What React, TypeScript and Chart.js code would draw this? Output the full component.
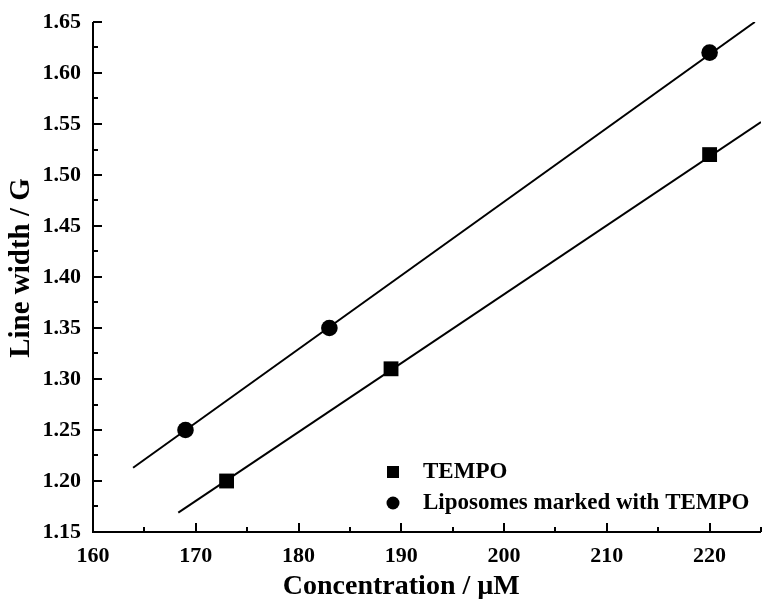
import React, { useEffect, useRef } from "react";
import { Chart, registerables } from "chart.js";

Chart.register(...registerables);

const tempoX = [173, 189, 220];
const tempoY = [1.2, 1.31, 1.52];
const liposX = [169, 183, 220];
const liposY = [1.25, 1.35, 1.62];
// fitted straight lines (end points)
const tempoFitX = [168.3, 225];
const tempoFitY = [1.169, 1.552];
const liposFitX = [163.9, 224.4];
const liposFitY = [1.213, 1.65];

const seriesNames = ["TEMPO", "Liposomes marked with TEMPO"];
const xTitle = "Concentration / \u00b5M";
const yTitle = "Line width / G";

const FONT = "'Liberation Serif', 'Times New Roman', serif";

const toPts = (xs: number[], ys: number[]) => xs.map((x, i) => ({ x, y: ys[i] }));

const isMajorX = (v: number) => Math.abs(v % 10) < 1e-6;
const isMajorY = (v: number) => Math.round(v * 1000) % 50 === 0;

const decorPlugin = {
  id: "decor",
  afterDraw(chart: any) {
    const { ctx, chartArea, scales } = chart;
    const xs = scales.x;
    const ys = scales.y;
    ctx.save();
    ctx.strokeStyle = "#000";
    ctx.fillStyle = "#000";
    ctx.lineWidth = 2;
    ctx.lineCap = "butt";
    // axes
    ctx.beginPath();
    ctx.moveTo(chartArea.left, chartArea.top);
    ctx.lineTo(chartArea.left, chartArea.bottom);
    ctx.lineTo(chartArea.right, chartArea.bottom);
    ctx.stroke();
    // inward ticks
    ctx.beginPath();
    xs.ticks.forEach((t: any) => {
      const px = Math.round(xs.getPixelForValue(t.value));
      const len = isMajorX(t.value) ? 9 : 5;
      ctx.moveTo(px, chartArea.bottom);
      ctx.lineTo(px, chartArea.bottom - len);
    });
    ys.ticks.forEach((t: any) => {
      const py = Math.round(ys.getPixelForValue(t.value));
      const len = isMajorY(t.value) ? 9 : 5;
      ctx.moveTo(chartArea.left, py);
      ctx.lineTo(chartArea.left + len, py);
    });
    ctx.stroke();

    // axis titles
    ctx.font = `bold 28px ${FONT}`;
    ctx.textAlign = "center";
    ctx.textBaseline = "alphabetic";
    ctx.fillText(xTitle, xs.getPixelForValue(190), 594);
    ctx.save();
    ctx.font = `bold 29px ${FONT}`;
    ctx.translate(22, 268);
    ctx.rotate(-Math.PI / 2);
    ctx.textBaseline = "middle";
    ctx.fillText(yTitle, 0, 0);
    ctx.restore();

    // legend
    ctx.font = `bold 23px ${FONT}`;
    ctx.textAlign = "left";
    ctx.textBaseline = "middle";
    ctx.fillRect(387, 466, 12, 12);
    ctx.fillText(seriesNames[0], 423, 472);
    ctx.beginPath();
    ctx.arc(393, 503, 6.5, 0, Math.PI * 2);
    ctx.fill();
    ctx.fillText(seriesNames[1], 423, 503);
    ctx.restore();
  },
};

export default function App() {
  const ref = useRef<HTMLCanvasElement | null>(null);
  useEffect(() => {
    if (!ref.current) return;
    const chart = new Chart(ref.current, {
      type: "scatter",
      data: {
        datasets: [
          {
            label: seriesNames[0] + " fit",
            data: toPts(tempoFitX, tempoFitY),
            showLine: true,
            borderColor: "#000",
            borderWidth: 2,
            pointRadius: 0,
          },
          {
            label: seriesNames[1] + " fit",
            data: toPts(liposFitX, liposFitY),
            showLine: true,
            borderColor: "#000",
            borderWidth: 2,
            pointRadius: 0,
          },
          {
            label: seriesNames[0],
            data: toPts(tempoX, tempoY),
            pointStyle: "rect",
            pointRadius: 10.5,
            backgroundColor: "#000",
            borderColor: "#000",
            borderWidth: 0,
          },
          {
            label: seriesNames[1],
            data: toPts(liposX, liposY),
            pointStyle: "circle",
            pointRadius: 8.3,
            backgroundColor: "#000",
            borderColor: "#000",
            borderWidth: 0,
          },
        ],
      },
      options: {
        responsive: false,
        animation: false,
        devicePixelRatio: 1,
        layout: { autoPadding: false, padding: { top: 22, right: 1, left: 0, bottom: 0 } },
        plugins: {
          legend: { display: false },
          tooltip: { enabled: false },
        },
        scales: {
          x: {
            type: "linear",
            min: 160,
            max: 225,
            afterFit: (s: any) => {
              s.height = 67;
              s.paddingLeft = 0;
              s.paddingRight = 0;
            },
            grid: { display: false, drawTicks: false },
            border: { display: false },
            ticks: {
              stepSize: 5,
              autoSkip: false,
              maxRotation: 0,
              padding: 11,
              color: "#000",
              font: { family: FONT, size: 22, weight: "bold" },
              callback: (v: any) => (isMajorX(Number(v)) ? String(v) : ""),
            },
          },
          y: {
            type: "linear",
            min: 1.15,
            max: 1.65,
            afterFit: (s: any) => {
              s.width = 93;
              s.paddingTop = 0;
              s.paddingBottom = 0;
            },
            grid: { display: false, drawTicks: false },
            border: { display: false },
            ticks: {
              stepSize: 0.025,
              autoSkip: false,
              padding: 12,
              color: "#000",
              font: { family: FONT, size: 22, weight: "bold" },
              callback: (v: any) => (isMajorY(Number(v)) ? Number(v).toFixed(2) : ""),
            },
          },
        },
      },
      plugins: [decorPlugin],
    } as any);
    return () => chart.destroy();
  }, []);
  return (
    <div style={{ position: "absolute", left: 0, top: 0, width: 762, height: 599, background: "#fff" }}>
      <canvas ref={ref} width={762} height={599} />
    </div>
  );
}
